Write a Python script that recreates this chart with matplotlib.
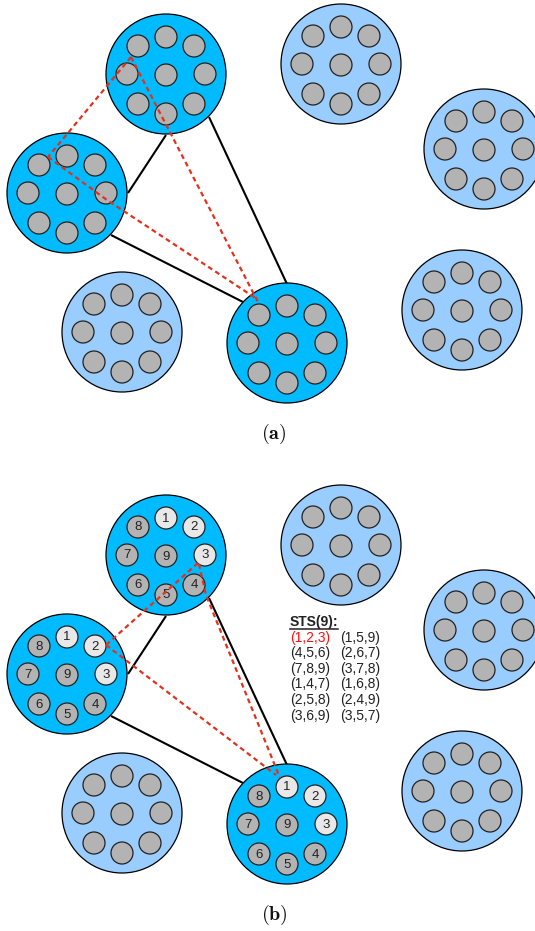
import matplotlib
matplotlib.use("Agg")
import matplotlib.pyplot as plt
from matplotlib.patches import Circle

plt.rcParams['mathtext.fontset'] = 'cm'

# ---- data ----
# big node groups: (x, y) centre in pixel coords, kind ('dark' active / 'light' idle)
groups_a = [(166, 75, 'dark'), (67, 194, 'dark'), (287, 344, 'dark'),
            (122, 333, 'light'), (341, 65, 'light'), (484, 150, 'light'), (462, 311, 'light')]
panel_b_shift = 481
# positions of the 8 outer members (numbered 1..8) + centre (9), offsets in px
member_labels = ['1', '2', '3', '4', '5', '6', '7', '8', '9']
member_offsets = [(0, -38), (28, -29), (39, -1), (28, 29), (0, 39),
                  (-28, 29), (-39, -1), (-28, -29), (0, 0)]
highlight_members = ['1', '2', '3']

# solid links between active groups (segments)
links = [((166, 135), (128, 193)), ((209, 117), (287, 284)), ((111, 235), (243, 302))]
# red dashed triangle (a) and (b)
dashed_a = [[(131, 57), (48, 157)], [(131, 57), (258, 302)], [(48, 157), (107, 200), (257, 299)]]
dashed_b = [[(198, 563), (106, 645)], [(199, 564), (206, 595), (280, 778)], [(106, 645), (276, 775)]]

sts_title = 'STS(9):'
sts_col1 = ['(1,2,3)', '(4,5,6)', '(7,8,9)', '(1,4,7)', '(2,5,8)', '(3,6,9)']
sts_col2 = ['(1,5,9)', '(2,6,7)', '(3,7,8)', '(1,6,8)', '(2,4,9)', '(3,5,7)']
panel_labels = ['(a)', '(b)']

# ---- style ----
DARK = '#00BBFF'
LIGHT = '#99CCFF'
GRAY = '#B3B3B3'
LGRAY = '#E8E8E8'
RED = '#E2321E'
R_BIG = 60
R_SMALL = 11

fig = plt.figure(figsize=(5.35, 9.31), dpi=100)
ax = fig.add_axes([0, 0, 1, 1])
ax.set_xlim(0, 535)
ax.set_ylim(931, 0)
ax.axis('off')


def draw_panel(shift, numbered):
    for (p, q) in links:
        ax.plot([p[0], q[0]], [p[1] + shift, q[1] + shift], color='black', lw=1.5,
                zorder=1, solid_capstyle='butt')
    for gx, gy, kind in groups_a:
        gy = gy + shift
        ax.add_patch(Circle((gx, gy - 1), R_BIG, facecolor=DARK if kind == 'dark' else LIGHT,
                            edgecolor='black', lw=0.9, zorder=2))
        for lab, (dx, dy) in zip(member_labels, member_offsets):
            show = numbered and kind == 'dark'
            fc = LGRAY if (show and lab in highlight_members) else GRAY
            ax.add_patch(Circle((gx + dx, gy + dy), R_SMALL, facecolor=fc,
                                edgecolor='#222222', lw=0.9, zorder=3))
            if show:
                ax.text(gx + dx, gy + dy + 0.5, lab, ha='center', va='center', fontsize=9.5,
                        family='Liberation Sans', color='#222222', zorder=4)


draw_panel(0, False)
draw_panel(panel_b_shift, True)

for seg in dashed_a:
    ax.plot([p[0] for p in seg], [p[1] for p in seg], color=RED, lw=1.6,
            dashes=(2.2, 1.6), zorder=5)
for seg in dashed_b:
    ax.plot([p[0] for p in seg], [p[1] for p in seg], color=RED, lw=1.6,
            dashes=(2.2, 1.6), zorder=5)

# STS listing
tx1, tx2, ty0, dy = 290, 340, 622, 15.6
ax.text(tx1, ty0, sts_title, ha='left', va='center', fontsize=10, fontweight='bold',
        family='Liberation Sans', color='#222222')
ax.plot([tx1, tx1 + 48], [ty0 + 6.5, ty0 + 6.5], color='#222222', lw=1.1)
for i, (c1, c2) in enumerate(zip(sts_col1, sts_col2)):
    y = ty0 + dy * (i + 1)
    ax.text(tx1, y, c1, ha='left', va='center', fontsize=10, family='Liberation Sans',
            color='#FF1010' if i == 0 else '#222222')
    ax.text(tx2, y, c2, ha='left', va='center', fontsize=10, family='Liberation Sans',
            color='#222222')

ax.text(274, 434, r'$\mathbf{(a)}$', ha='center', va='center', fontsize=14.5, color='#111111')
ax.text(274, 915, r'$\mathbf{(b)}$', ha='center', va='center', fontsize=14.5, color='#111111')

fig.savefig('out.png', dpi=100, facecolor='white')
